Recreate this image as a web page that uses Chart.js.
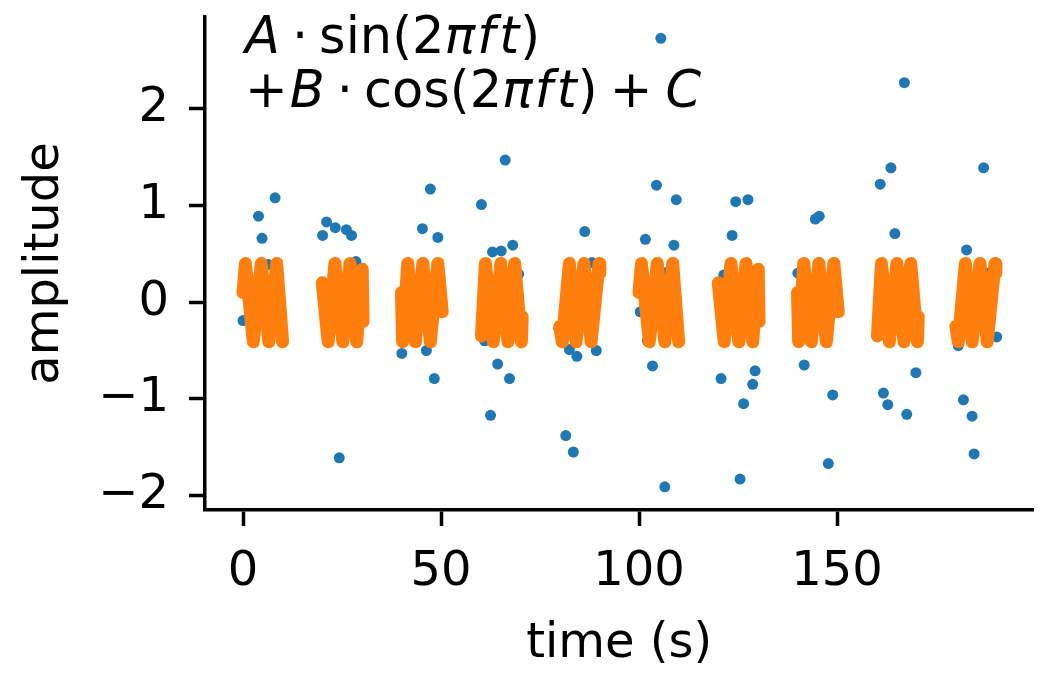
<!DOCTYPE html>
<html>
<head>
<meta charset="utf-8">
<script src="https://cdn.jsdelivr.net/npm/chart.js@4.4.1/dist/chart.umd.min.js"></script>
<style>
  body { margin: 0; background: #fff; }
  #wrap { width: 1039px; height: 673px; }
</style>
</head>
<body>
<div id="wrap"><canvas id="myChart" width="1039" height="673"></canvas></div>
<script>
const obsTime = [
  0.0, 3.9, 4.8, 6.4, 8.1,
  20.1, 21.1, 23.3, 24.3, 26.1, 27.4, 28.5,
  40.1, 45.3, 46.3, 47.3, 48.3, 49.2,
  60.2, 61.0, 62.5, 63.0, 64.3, 65.2, 66.2, 67.3, 68.1, 69.6,
  79.7, 81.5, 82.4, 83.4, 84.3, 86.3, 88.1, 89.2,
  100.3, 101.6, 102.1, 103.4, 104.4, 105.5, 106.5, 107.1, 108.8, 109.4,
  120.7, 121.4, 123.5, 124.4, 125.5, 126.4, 127.5, 128.7, 129.3,
  140.1, 141.7, 144.5, 145.5, 147.8, 148.9,
  160.9, 161.7, 162.8, 163.6, 164.6, 167.0, 167.6, 168.4, 169.9,
  180.6, 181.9, 182.7, 184.1, 184.6, 187.0, 188.8, 190.3
];
const obsAmp = [
  -0.19, 0.89, 0.66, 0.39, 1.08,
  0.69, 0.83, 0.77, -1.61, 0.75, 0.69, 0.42,
  -0.53, 0.76, -0.50, 1.17, -0.79, 0.67,
  1.01, -0.40, -1.17, 0.52, -0.64, 0.53, 1.47, -0.79, 0.59, 0.29,
  -0.27, -1.38, -0.49, -1.55, -0.56, 0.73, 0.41, -0.50,
  -0.10, 0.65, -0.40, -0.66, 1.21, 2.73, -1.91, 0.31, 0.59, 1.06,
  -0.79, 0.28, 0.69, 1.04, -1.83, -1.05, 1.06, -0.85, -0.71,
  0.30, -0.65, 0.86, 0.89, -1.67, -0.96,
  1.22, -0.94, -1.06, 1.39, 0.71, 2.27, -1.16, -0.25, -0.73,
  -0.45, -1.01, 0.54, -1.18, -1.57, 1.39, 0.31, -0.36
];

// fitted curve, one run per observing window; null breaks the line
const fitTime = [
  0.0, 0.6, 2.6, 4.6, 6.5, 8.5, 10.0, null,
  20.0, 21.5, 23.2, 25.2, 27.0, 28.7, 30.1, 30.3, null,
  40.0, 40.3, 41.6, 43.5, 45.4, 47.3, 49.2, 50.3, null,
  60.2, 61.2, 63.2, 65.1, 66.9, 68.6, 70.3, 70.5, null,
  80.0, 80.6, 82.4, 84.1, 86.1, 87.9, 89.9, 90.1, null,
  100.0, 100.6, 102.6, 104.6, 106.5, 108.5, 110.0, null,
  120.0, 121.5, 123.2, 125.2, 127.0, 128.7, 130.1, 130.3, null,
  140.0, 140.3, 141.6, 143.5, 145.4, 147.3, 149.2, 150.3, null,
  160.2, 161.2, 163.2, 165.1, 166.9, 168.6, 170.3, 170.5, null,
  180.0, 180.6, 182.4, 184.1, 186.1, 187.9, 189.9, 190.1
];
const fitAmp = [
  0.10, 0.40, -0.41, 0.40, -0.41, 0.40, -0.41, null,
  0.20, -0.41, 0.40, -0.41, 0.40, -0.41, 0.34, -0.20, null,
  0.10, -0.41, 0.40, -0.41, 0.40, -0.41, 0.40, -0.10, null,
  -0.35, 0.40, -0.41, 0.40, -0.41, 0.40, -0.41, -0.15, null,
  -0.25, -0.41, 0.40, -0.41, 0.40, -0.41, 0.40, 0.30, null,
  0.10, 0.40, -0.41, 0.40, -0.41, 0.40, -0.41, null,
  0.20, -0.41, 0.40, -0.41, 0.40, -0.41, 0.34, -0.20, null,
  0.10, -0.41, 0.40, -0.41, 0.40, -0.41, 0.40, -0.10, null,
  -0.35, 0.40, -0.41, 0.40, -0.41, 0.40, -0.41, -0.15, null,
  -0.25, -0.41, 0.40, -0.41, 0.40, -0.41, 0.40, 0.30
];

const xTicks = [0, 50, 100, 150];
const yTicks = [-2, -1, 0, 1, 2];

// formula text: [text, italic, gap before]
const formulaLines = [
  [["A", true, 0], ["\u00b7", false, 12], ["sin(2", false, 11], ["\u03c0", true, 0], ["f", true, 2], ["t", true, 4], [")", false, 1]],
  [["+", false, 0], ["B", true, 2], ["\u00b7", false, 12], ["cos(2", false, 11], ["\u03c0", true, 0], ["f", true, 2], ["t", true, 4], [")", false, 1], ["+", false, 12], ["C", true, 13]]
];

const FONT = '"DejaVu Sans", "Liberation Sans", sans-serif';

const formulaPlugin = {
  id: "formula",
  afterDraw(chart) {
    const ctx = chart.ctx;
    const area = chart.chartArea;
    ctx.save();
    ctx.fillStyle = "#000";
    ctx.textBaseline = "alphabetic";
    ctx.textAlign = "left";
    formulaLines.forEach((line, li) => {
      let x = area.left + 40;
      const y = area.top + 36 + li * 54;
      line.forEach(([txt, italic, gap]) => {
        x += gap;
        ctx.font = (italic ? "italic " : "") + "51px " + FONT;
        ctx.fillText(txt, x, y);
        x += ctx.measureText(txt).width;
      });
    });
    ctx.restore();
  },
};

const fitData = fitTime.map((t, i) => ({ x: t, y: fitAmp[i] }));
const obsData = obsTime.map((t, i) => ({ x: t, y: obsAmp[i] }));

const tickFont = { family: FONT, size: 48 };

const noPad = (scale) => {
  scale.paddingTop = 0;
  scale.paddingBottom = 0;
  scale.paddingLeft = 0;
  scale.paddingRight = 0;
};

const config = {
  type: "scatter",
  data: {
    datasets: [
      {
        type: "line",
        label: "fit",
        data: fitData,
        borderColor: "#ff7f0e",
        borderWidth: 13,
        pointRadius: 0,
        tension: 0,
        spanGaps: false,
        borderJoinStyle: "round",
        borderCapStyle: "round",
        order: 0,
      },
      {
        label: "data",
        data: obsData,
        backgroundColor: "#1f77b4",
        borderWidth: 0,
        pointRadius: 5.5,
        order: 1,
      },
    ],
  },
  options: {
    responsive: false,
    animation: false,
    devicePixelRatio: 1,
    layout: {
      padding: { top: 17, right: 3, left: 0, bottom: 0 },
    },
    plugins: {
      legend: { display: false },
      tooltip: { enabled: false },
    },
    scales: {
      x: {
        type: "linear",
        min: -9.6,
        max: 199.6,
        afterBuildTicks: (scale) => {
          scale.ticks = xTicks.map((v) => ({ value: v }));
        },
        afterFit: (scale) => {
          scale.height = 163;
          noPad(scale);
        },
        grid: {
          drawOnChartArea: false,
          drawTicks: true,
          tickLength: 16,
          tickWidth: 3.5,
          tickColor: "#000",
        },
        border: { display: true, color: "#000", width: 3.5 },
        ticks: {
          color: "#000",
          font: tickFont,
          padding: 18,
          maxRotation: 0,
        },
        title: {
          display: true,
          text: "time (s)",
          color: "#000",
          font: tickFont,
          padding: 0,
        },
      },
      y: {
        type: "linear",
        min: -2.15,
        max: 2.95,
        afterBuildTicks: (scale) => {
          scale.ticks = yTicks.map((v) => ({ value: v }));
        },
        afterFit: (scale) => {
          scale.width = 205;
          noPad(scale);
        },
        grid: {
          drawOnChartArea: false,
          drawTicks: true,
          tickLength: 16,
          tickWidth: 3.5,
          tickColor: "#000",
        },
        border: { display: true, color: "#000", width: 3.5 },
        ticks: {
          color: "#000",
          font: tickFont,
          padding: 20,
          callback: (v) => String(v).replace("-", "\u2212"),
        },
        title: {
          display: true,
          text: "amplitude",
          color: "#000",
          font: tickFont,
          padding: { top: 17, bottom: 0 },
        },
      },
    },
  },
  plugins: [formulaPlugin],
};

const myChart = new Chart(document.getElementById("myChart"), config);
</script>
</body>
</html>
